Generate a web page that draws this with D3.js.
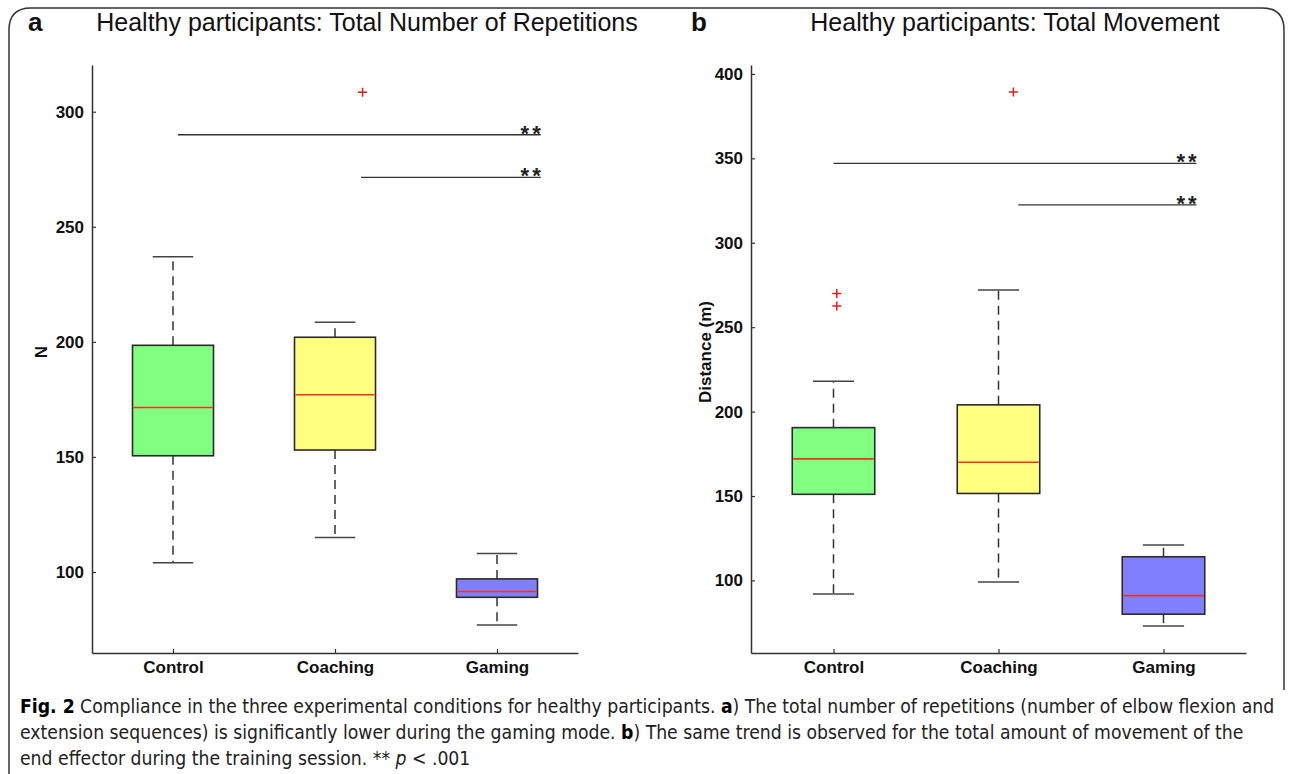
<!DOCTYPE html>
<html>
<head>
<meta charset="utf-8">
<script src="https://cdn.jsdelivr.net/npm/d3@7"></script>
<style>
  body { margin: 0; background: #fff; }
  svg { display: block; }
  .tick text { font-family: "Liberation Sans", Arial, sans-serif; font-weight: bold; font-size: 17px; fill: #111; }
</style>
</head>
<body>
<svg id="fig" width="1292" height="774"></svg>
<script>
const groups = ["Control", "Coaching", "Gaming"];
const boxColors = ["#80ff80", "#ffff80", "#8080ff"];

// panel a: total number of repetitions
const repsLow = [104, 115, 77];
const repsQ1 = [150.5, 153, 89];
const repsMedian = [171.5, 177, 91.5];
const repsQ3 = [198.5, 202, 97];
const repsHigh = [237, 208.5, 108];
const repsOutliers = [[2.17, 308.5]];
const repsTicks = [100, 150, 200, 250, 300];
const repsSig = [[1.03, 3.27, 290], [2.16, 3.27, 271.5]];

// panel b: total movement
const moveLow = [92, 99, 73];
const moveQ1 = [151, 151.5, 80];
const moveMedian = [172, 170, 91];
const moveQ3 = [190.5, 204, 114];
const moveHigh = [218, 272, 121];
const moveOutliers = [[1.02, 270], [1.02, 262.5], [2.09, 389.3]];
const moveTicks = [100, 150, 200, 250, 300, 350, 400];
const moveSig = [[1.0, 3.2, 347], [2.12, 3.2, 322.5]];

const svg = d3.select("#fig");
const sans = "'Liberation Sans', Arial, sans-serif";

// figure frame
svg.append("path")
    .attr("d", "M9,774 L9,30 Q9,8 31,8 L1262,8 Q1284,8 1284,30 L1284,690")
    .attr("fill", "none")
    .attr("stroke", "#333")
    .attr("stroke-width", 1.5);

function drawPanel(opt) {
    const x = d3.scaleLinear().domain([0.5, 3.5]).range(opt.xRange);
    const y = d3.scaleLinear().domain(opt.yDomain).range([653, 65]);
    const g = svg.append("g");

    // axes
    const ax = g.append("g")
        .attr("transform", `translate(${opt.xRange[0]},0)`)
        .call(d3.axisLeft(y).tickValues(opt.ticks).tickSizeInner(-4).tickSizeOuter(0).tickPadding(8));
    const bx = g.append("g")
        .attr("transform", "translate(0,653)")
        .call(d3.axisBottom(x).tickValues([1, 2, 3]).tickFormat(d => groups[d - 1])
            .tickSizeInner(-4).tickSizeOuter(0).tickPadding(8));
    [ax, bx].forEach(a => {
        a.select(".domain").attr("stroke", "#333").attr("stroke-width", 1.5);
        a.selectAll(".tick line").attr("stroke", "#333").attr("stroke-width", 1.2);
    });

    const bw = 0.5, cw = 0.25;
    groups.forEach((name, i) => {
        const c = i + 1;
        // whiskers
        [[opt.q3[i], opt.high[i]], [opt.q1[i], opt.low[i]]].forEach(([a, b]) => {
            g.append("line")
                .attr("x1", x(c)).attr("x2", x(c))
                .attr("y1", y(a)).attr("y2", y(b))
                .attr("stroke", "#333").attr("stroke-width", 1.5)
                .attr("stroke-dasharray", "9,6");
        });
        // caps
        [opt.high[i], opt.low[i]].forEach(v => {
            g.append("line")
                .attr("x1", x(c - cw / 2)).attr("x2", x(c + cw / 2))
                .attr("y1", y(v)).attr("y2", y(v))
                .attr("stroke", "#444").attr("stroke-width", 1.5);
        });
        // box
        g.append("rect")
            .attr("x", x(c - bw / 2))
            .attr("width", x(c + bw / 2) - x(c - bw / 2))
            .attr("y", y(opt.q3[i]))
            .attr("height", y(opt.q1[i]) - y(opt.q3[i]))
            .attr("fill", boxColors[i])
            .attr("stroke", "#2a2a2a").attr("stroke-width", 1.6);
        // median
        g.append("line")
            .attr("x1", x(c - bw / 2) + 1).attr("x2", x(c + bw / 2) - 1)
            .attr("y1", y(opt.median[i])).attr("y2", y(opt.median[i]))
            .attr("stroke", "#ee3322").attr("stroke-width", 1.6);
    });

    // outliers
    opt.outliers.forEach(([p, v]) => {
        g.append("path")
            .attr("d", `M${x(p) - 4.5},${y(v)}h9M${x(p)},${y(v) - 4.5}v9`)
            .attr("stroke", "#e21a1a").attr("stroke-width", 1.5);
    });

    // significance bars
    opt.sig.forEach(([a, b, v]) => {
        g.append("line")
            .attr("x1", x(a)).attr("x2", x(b))
            .attr("y1", y(v)).attr("y2", y(v))
            .attr("stroke", "#333").attr("stroke-width", 1.3);
        g.append("text")
            .attr("x", x(b) + 3).attr("y", y(v) + 6)
            .attr("text-anchor", "end")
            .attr("font-family", sans)
            .attr("font-weight", "bold").attr("font-size", 22)
            .attr("letter-spacing", 3)
            .attr("fill", "#222")
            .text("**");
    });

    // titles and labels
    g.append("text")
        .attr("x", opt.letterX).attr("y", 31)
        .attr("font-family", sans)
        .attr("font-weight", "bold").attr("font-size", 26)
        .attr("fill", "#111")
        .text(opt.letter);
    g.append("text")
        .attr("x", opt.titleX).attr("y", 31)
        .attr("text-anchor", "middle")
        .attr("font-family", sans)
        .attr("font-size", 25)
        .attr("fill", "#111")
        .text(opt.title);
    g.append("text")
        .attr("transform", `translate(${opt.yLabelX},${opt.yLabelY}) rotate(-90)`)
        .attr("text-anchor", "middle")
        .attr("font-family", sans)
        .attr("font-weight", "bold").attr("font-size", 17)
        .attr("fill", "#111")
        .text(opt.yLabel);
}

drawPanel({
    xRange: [92, 578], yDomain: [64.8, 320.3], ticks: repsTicks,
    low: repsLow, q1: repsQ1, median: repsMedian, q3: repsQ3, high: repsHigh,
    outliers: repsOutliers, sig: repsSig,
    letter: "a", letterX: 28, title: "Healthy participants: Total Number of Repetitions", titleX: 367,
    yLabel: "N", yLabelX: 47, yLabelY: 352
});

drawPanel({
    xRange: [751, 1246], yDomain: [57, 405.3], ticks: moveTicks,
    low: moveLow, q1: moveQ1, median: moveMedian, q3: moveQ3, high: moveHigh,
    outliers: moveOutliers, sig: moveSig,
    letter: "b", letterX: 691, title: "Healthy participants: Total Movement", titleX: 1015,
    yLabel: "Distance (m)", yLabelX: 711, yLabelY: 352
});

// caption
const capFont = "'DejaVu Sans Condensed', 'Liberation Sans Narrow', sans-serif";
const capLines = [
    { y: 713, parts: [["Fig. 2", "bold"], [" Compliance in the three experimental conditions for healthy participants. "], ["a", "bold"], [") The total number of repetitions (number of elbow flexion and"]] },
    { y: 739, parts: [["extension sequences) is significantly lower during the gaming mode. "], ["b", "bold"], [") The same trend is observed for the total amount of movement of the"]] },
    { y: 765, parts: [["end effector during the training session. ** "], ["p", "italic"], [" < .001"]] }
];
capLines.forEach(line => {
    const t = svg.append("text")
        .attr("x", 20).attr("y", line.y)
        .attr("font-family", capFont).attr("font-size", 19.2)
        .attr("fill", "#222");
    line.parts.forEach(([s, style]) => {
        const ts = t.append("tspan").text(s);
        if (style === "bold") ts.attr("font-weight", "bold").attr("fill", "#000");
        if (style === "italic") ts.attr("font-style", "italic");
    });
});
</script>
</body>
</html>
